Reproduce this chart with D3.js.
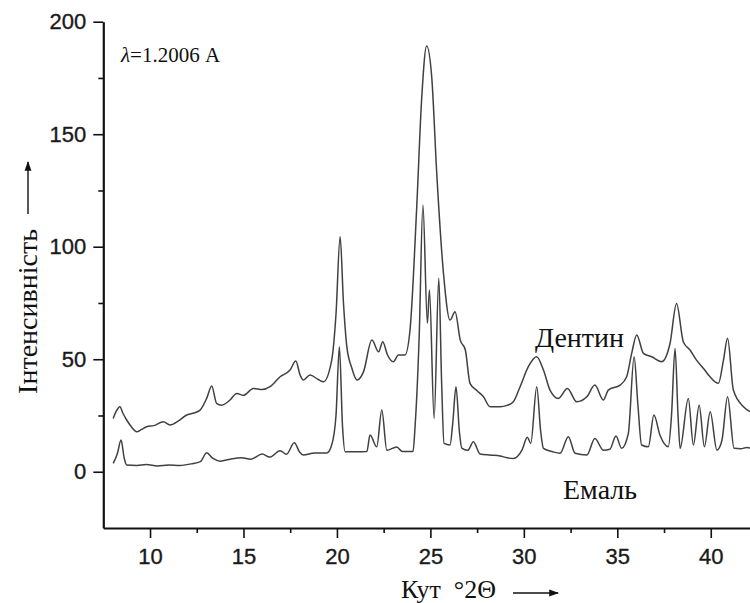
<!DOCTYPE html>
<html>
<head>
<meta charset="utf-8">
<script src="https://cdn.jsdelivr.net/npm/d3@7"></script>
<style>
  html, body { margin: 0; padding: 0; background: #fff; }
  svg { display: block; }
</style>
</head>
<body>
<svg id="chart" width="750" height="603"></svg>
<script>
// ---- Data ----
const dentinAngle = [8.03, 8.2, 8.39, 8.55, 8.75, 9.0, 9.29, 9.55, 9.82, 10.2, 10.71, 11.07, 11.5, 11.96, 12.3, 12.68, 13.03, 13.3, 13.56, 13.83, 14.28, 14.64, 15.0, 15.53, 16.0, 16.42, 16.96, 17.49, 17.8, 18.03, 18.2, 18.56, 19.0, 19.28, 19.72, 19.95, 20.17, 20.35, 20.53, 20.8, 21.07, 21.42, 21.87, 22.23, 22.45, 22.7, 23.02, 23.29, 23.64, 23.91, 24.27, 24.53, 24.8, 25.07, 25.34, 25.7, 26.05, 26.32, 26.6, 26.87, 27.12, 27.5, 27.84, 28.19, 28.73, 29.1, 29.44, 29.8, 30.24, 30.68, 31.05, 31.4, 31.85, 32.33, 32.83, 33.37, 33.8, 34.25, 34.52, 35.15, 35.5, 35.77, 36.04, 36.4, 36.84, 37.37, 37.82, 38.17, 38.53, 38.9, 39.24, 39.6, 39.96, 40.41, 40.68, 40.9, 41.21, 41.75, 42.1];
const dentinIntensity = [23.7, 27, 28.9, 26, 23, 20, 17.8, 18.8, 20, 20.5, 22.2, 20.8, 22.5, 25.2, 26, 27.4, 32.6, 38.1, 30.4, 29.6, 31.9, 34.8, 34, 37, 36.5, 37.8, 42.2, 45.2, 49.2, 43, 40.8, 43, 41, 40, 49.6, 70, 104.4, 75, 55.6, 46, 40.8, 44.4, 58.5, 53.3, 57.8, 52, 48.9, 51.9, 51.9, 63, 117.8, 165.2, 189.2, 175.6, 132.6, 88.2, 67.4, 71.1, 58.5, 54.1, 39.3, 36, 33.3, 28.9, 28.9, 29.5, 31.1, 37.8, 46.7, 51.1, 45.2, 36.3, 32.6, 37, 31.1, 33.3, 38.5, 31.9, 36.3, 38.5, 42.2, 52.6, 60.8, 52.6, 51.1, 48.9, 57, 74.8, 57.8, 54, 49.6, 46, 42.2, 39.3, 49.6, 59.3, 36.3, 28.9, 26.7];

const enamelAngle = [8.03, 8.25, 8.45, 8.62, 8.75, 9.3, 9.8, 10.4, 11.0, 11.6, 12.2, 12.7, 13.03, 13.35, 13.75, 14.4, 14.9, 15.4, 16.0, 16.4, 16.96, 17.3, 17.72, 18.0, 18.2, 18.8, 19.45, 19.72, 19.95, 20.13, 20.3, 20.44, 21.0, 21.6, 21.77, 22.13, 22.4, 22.67, 23.2, 23.5, 24.07, 24.18, 24.4, 24.6, 24.84, 24.95, 25.2, 25.45, 25.6, 25.73, 26.05, 26.2, 26.37, 26.55, 26.68, 27.0, 27.3, 27.66, 28.2, 28.73, 29.1, 29.44, 29.9, 30.19, 30.37, 30.69, 30.9, 31.05, 31.5, 31.94, 32.38, 32.74, 33.37, 33.8, 34.25, 34.6, 34.93, 35.23, 35.59, 35.9, 36.1, 36.3, 36.66, 36.96, 37.28, 37.73, 37.9, 38.09, 38.25, 38.36, 38.8, 39.07, 39.38, 39.66, 39.97, 40.33, 40.6, 40.9, 41.25, 41.6, 41.93, 42.1];
const enamelIntensity = [3.7, 8, 14.1, 6, 3, 2.8, 3.2, 2.6, 3.0, 2.8, 3.5, 4.5, 8.4, 6, 4.7, 5.8, 6.2, 5.6, 7.9, 6.5, 9.3, 7.8, 12.9, 8.8, 7.4, 8.3, 8.3, 11.9, 25, 55.6, 20, 8.9, 8.9, 9, 16.3, 11.1, 27.4, 9.6, 11, 9, 9, 20, 60, 118.5, 66, 80.8, 23.7, 86, 40, 12.6, 11.9, 22, 37.8, 18, 10.5, 9.5, 13.3, 7.9, 7.4, 7.0, 6.2, 5.9, 9.6, 15.3, 12.6, 37.8, 18, 10.4, 9, 8.2, 15.6, 8.2, 7.4, 14.8, 9.6, 10, 15.9, 10.4, 17, 51.1, 30, 11.9, 11.1, 25.2, 16.3, 11.1, 25, 54.8, 25, 10.4, 32.6, 11.9, 29.6, 11.1, 26.7, 9.6, 14, 33.3, 10.4, 10.2, 10.8, 10.5];

const xTicks = [10, 15, 20, 25, 30, 35, 40];
const xMinorTicks = [12.5, 17.5, 22.5, 27.5, 32.5, 37.5];
const yTicks = [0, 50, 100, 150, 200];
const yMinorTicks = [25, 75, 125, 175];

const yTitle = "Інтенсивність";
const xTitle = "Кут  °2Θ";
const dentinLabel = "Дентин";
const enamelLabel = "Емаль";

// ---- Drawing ----
const svg = d3.select("#chart");
const x = d3.scaleLinear().domain([7.5, 42.1]).range([103.3, 750]);
const y = d3.scaleLinear().domain([-25, 200]).range([528, 21.7]);

const serif = "'Liberation Serif', 'Times New Roman', serif";
const sans = "'Liberation Sans', Arial, sans-serif";

const line = d3.line()
  .x(d => x(d[0]))
  .y(d => y(d[1]))
  .curve(d3.curveMonotoneX);

const dentin = dentinAngle.map((a, i) => [a, dentinIntensity[i]]);
const enamel = enamelAngle.map((a, i) => [a, enamelIntensity[i]]);

svg.append("path").datum(dentin)
  .attr("d", line).attr("fill", "none")
  .attr("stroke", "#404040").attr("stroke-width", 1.5).attr("stroke-linejoin", "round");
svg.append("path").datum(enamel)
  .attr("d", line).attr("fill", "none")
  .attr("stroke", "#404040").attr("stroke-width", 1.5).attr("stroke-linejoin", "round");

// X axis
const gx = svg.append("g").attr("transform", `translate(0,${y(-25)})`);
gx.call(d3.axisBottom(x).tickValues(xTicks).tickSize(10).tickSizeOuter(0).tickPadding(10).tickFormat(d3.format("d")));
gx.append("g").call(d3.axisBottom(x).tickValues(xMinorTicks).tickSize(5).tickSizeOuter(0).tickFormat(""))
  .select(".domain").remove();

// Y axis
const gy = svg.append("g").attr("transform", `translate(${x(7.5)},0)`);
gy.call(d3.axisLeft(y).tickValues(yTicks).tickSize(10).tickSizeOuter(0).tickPadding(7).tickFormat(d3.format("d")));
gy.append("g").call(d3.axisLeft(y).tickValues(yMinorTicks).tickSize(5).tickSizeOuter(0).tickFormat(""))
  .select(".domain").remove();

svg.selectAll(".domain").attr("stroke", "#111").attr("stroke-width", 2.2);
svg.selectAll(".tick line").attr("stroke", "#111").attr("stroke-width", 1.6);
svg.selectAll(".tick text").attr("font-family", sans).attr("font-size", 22)
  .attr("fill", "#1a1a1a").attr("stroke", "#1a1a1a").attr("stroke-width", 0.35);

// Arrow marker
const defs = svg.append("defs");
defs.append("marker").attr("id", "arr")
  .attr("viewBox", "0 0 10 10").attr("refX", 9).attr("refY", 5)
  .attr("markerWidth", 7).attr("markerHeight", 7).attr("orient", "auto")
  .append("path").attr("d", "M0,1.5 L10,5 L0,8.5 Z").attr("fill", "#111");

// Y title + arrow
svg.append("text")
  .attr("transform", "translate(37,311.5) rotate(-90)")
  .attr("text-anchor", "middle")
  .attr("font-family", serif).attr("font-size", 28).attr("fill", "#111")
  .text(yTitle);
svg.append("line").attr("x1", 28).attr("x2", 28).attr("y1", 214).attr("y2", 162)
  .attr("stroke", "#111").attr("stroke-width", 1.4).attr("marker-end", "url(#arr)");

// X title + arrow
svg.append("text")
  .attr("x", 401).attr("y", 598)
  .attr("font-family", serif).attr("font-size", 26).attr("fill", "#111")
  .attr("xml:space", "preserve")
  .text(xTitle);
svg.append("line").attr("x1", 513).attr("x2", 558).attr("y1", 593).attr("y2", 593)
  .attr("stroke", "#111").attr("stroke-width", 1.4).attr("marker-end", "url(#arr)");

// Wavelength note
const lam = svg.append("text").attr("x", 121).attr("y", 62)
  .attr("font-family", serif).attr("font-size", 21).attr("fill", "#111");
lam.append("tspan").attr("font-style", "italic").text("λ");
lam.append("tspan").text("=1.2006 A");

// Series labels
svg.append("text").attr("x", 535).attr("y", 347)
  .attr("font-family", serif).attr("font-size", 28).attr("fill", "#111")
  .text(dentinLabel);
svg.append("text").attr("x", 563).attr("y", 499)
  .attr("font-family", serif).attr("font-size", 28).attr("fill", "#111")
  .text(enamelLabel);
</script>
</body>
</html>
